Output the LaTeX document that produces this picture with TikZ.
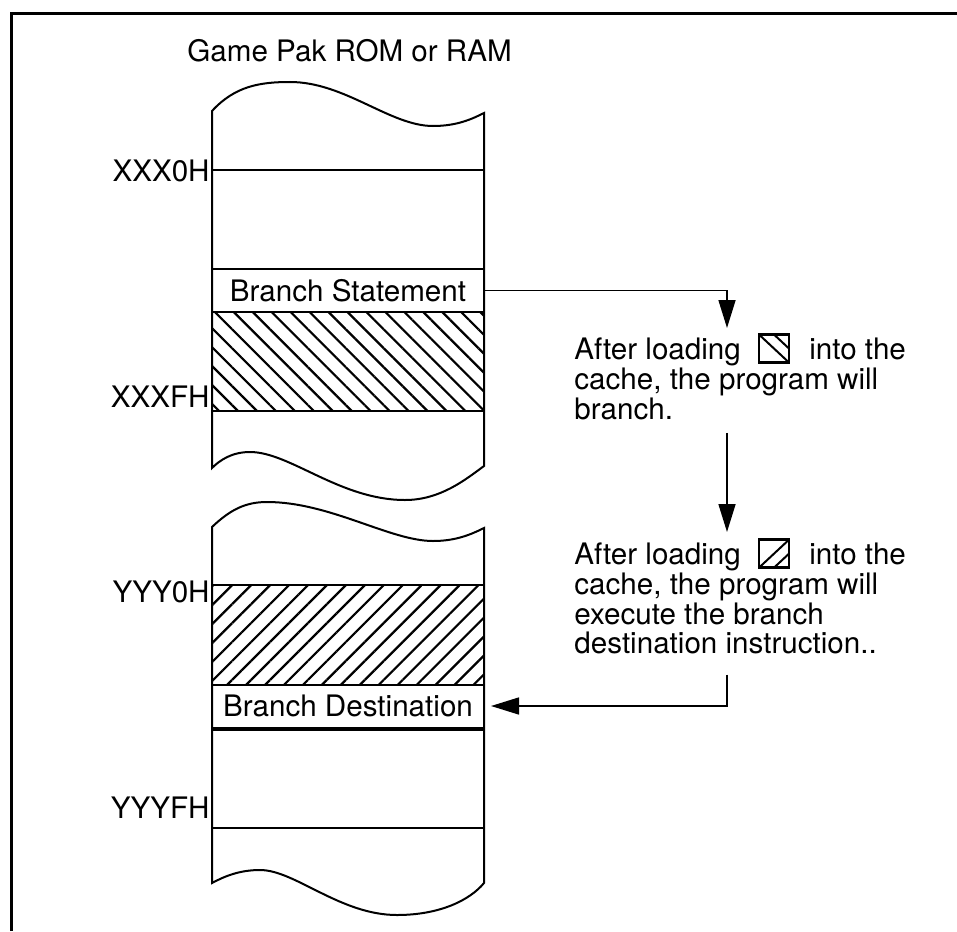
\documentclass[tikz,border=0pt]{standalone}
\usepackage{fontspec}
\setmainfont{TeX Gyre Heros}
\usetikzlibrary{arrows.meta,patterns.meta}

\newcommand{\icondown}{\tikz[x=1pt,y=1pt,baseline=1.5pt]{\draw[line width=1.2pt] (0,0) rectangle (15,14);\draw[line width=1pt] (0,14) -- (15,0);\draw[line width=1pt] (7.5,14) -- (15,7);}}
\newcommand{\iconup}{\tikz[x=1pt,y=1pt,baseline=1.5pt]{\draw[line width=1.2pt] (0,0) rectangle (15,14);\draw[line width=1pt] (0,0) -- (15,14);\draw[line width=1pt] (7.5,0) -- (15,7);}}

\begin{document}
\begin{tikzpicture}[x=0.5pt,y=-0.5pt,font=\fontsize{14.8}{14.85}\selectfont,
  mem/.style={line width=1pt},
  cell/.style={draw,line width=1pt,minimum width=136pt,minimum height=21.5pt,inner sep=0pt},
  addr/.style={anchor=east,inner sep=0pt},
  note/.style={anchor=north west,align=left,inner sep=0pt},
  flow/.style={line width=0.8pt,-{Triangle[length=14pt,width=8.5pt]}}]
\useasboundingbox (0,0) rectangle (957,931);
\draw[line width=1.5pt] (11,931) -- (11,14) -- (957,14);
\node[anchor=base west,inner sep=0pt] (title) at (187,62) {Game Pak ROM or RAM};
% upper block
\fill[pattern={Lines[angle=-45,distance=6.7pt,line width=1.1pt]}] (212,312) rectangle (484,411);
\draw[mem] (212,111) .. controls (235,86) and (260,82) .. (290,82) .. controls (345,82) and (390,126) .. (433,126) .. controls (457,126) and (472,119) .. (484,113)
  -- (484,466) .. controls (465,480) and (440,500) .. (405,500) .. controls (340,500) and (290,452) .. (250,452) .. controls (232,452) and (220,460) .. (212,468) -- cycle;
\draw[mem] (212,170) -- (484,170);
\node[cell] (bstmt) at (348,290.5) {Branch Statement};
\draw[mem] (212,411) -- (484,411);
\node[addr] (xlo) at (210,171) {XXX0H};
\node[addr] (xhi) at (210,397) {XXXFH};
% lower block
\fill[pattern={Lines[angle=45,distance=6.7pt,line width=1.1pt]}] (212,585) rectangle (484,683);
\draw[mem] (212,527) .. controls (230,510) and (245,502) .. (267,502) .. controls (330,502) and (390,541) .. (433,541) .. controls (455,541) and (470,535) .. (484,528)
  -- (484,883) .. controls (470,900) and (440,915) .. (397,915) .. controls (340,915) and (295,870) .. (260,870) .. controls (240,870) and (225,876) .. (212,883) -- cycle;
\draw[mem] (212,585) -- (484,585);
\node[cell] (bdest) at (348,706) {Branch Destination};
\draw[line width=2pt] (212,729) -- (484,729);
\draw[mem] (212,828) -- (484,828);
\node[addr] (ylo) at (210,592) {YYY0H};
\node[addr] (yhi) at (210,808) {YYYFH};
% notes
\node[note] (note1) at (574,333) {After loading\hspace{8.5pt}\icondown\hspace{9.5pt}into the\\cache, the program will\\branch.};
\node[note] (note2) at (574,538) {After loading\hspace{8.5pt}\iconup\hspace{9.5pt}into the\\cache, the program will\\execute the branch\\destination instruction..};
\coordinate (drop) at (727,328);
\draw[flow] (bstmt.east) -| (drop);
\draw[flow] ([yshift=-6.5pt]note1.south -| drop) -- ([yshift=3pt]note2.north -| drop);
\draw[flow] ([yshift=-10pt]note2.south -| drop) |- ([xshift=3pt]bdest.east);
\end{tikzpicture}
\end{document}
